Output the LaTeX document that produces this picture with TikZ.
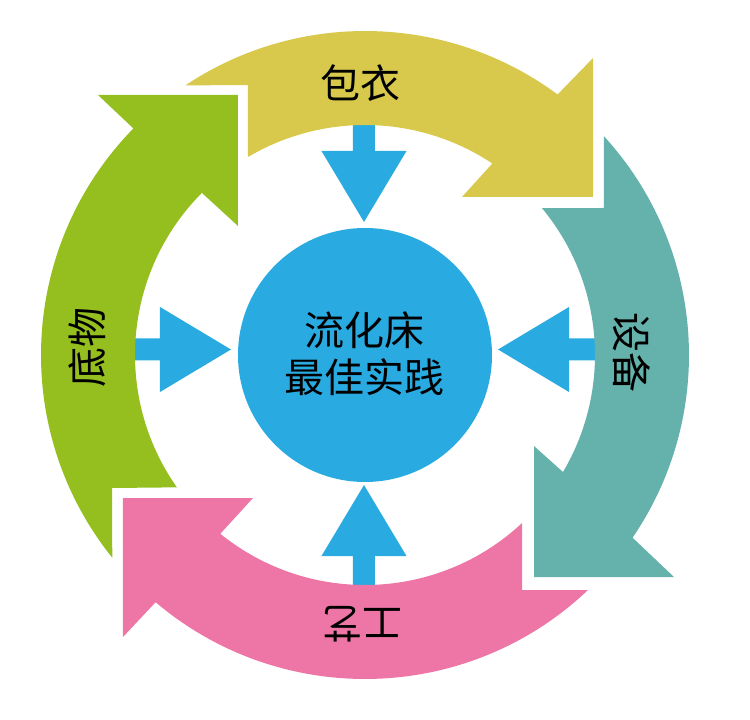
\documentclass[tikz,border=0pt]{standalone}
\usepackage{fontspec}
\usepackage{tikz}
\usetikzlibrary{positioning}
\newfontfamily\cjk{Noto Sans CJK SC}
\definecolor{coatyellow}{RGB}{216, 201, 76}
\definecolor{equipteal}{RGB}{101, 177, 172}
\definecolor{processpink}{RGB}{237, 118, 166}
\definecolor{substrategreen}{RGB}{148, 191, 31}
\definecolor{hubblue}{RGB}{41, 170, 225}

\begin{document}
\begin{tikzpicture}[
    x=1pt, y=1pt,
    band/.style={draw=none},
    inarrow/.style={fill=hubblue, draw=none},
    hub/.style={circle, fill=hubblue, minimum size=254pt, inner sep=0pt, align=center, font=\cjk\fontsize{40}{47}\selectfont},
    lbl/.style={inner sep=0pt, font=\cjk\fontsize{40}{47}\selectfont}
]
\useasboundingbox (-365,-365) rectangle (385,355);

% Inward arrows (drawn first, shafts go under the ring)
\foreach \ang/\tx/\ty in {0/-134/5.5, 180/133/5.5, -90/-1/133, 90/-1/-130}
  \fill[inarrow, shift={(\tx,\ty)}, rotate=\ang] (0,0) -- (-71,42.5) -- (-71,11) -- (-115,11)
    -- (-115,-11) -- (-71,-11) -- (-71,-42.5) -- cycle;

% Ring: coating
\fill[band, coatyellow] (123.69:324) arc[start angle=123.69, end angle=53.52, radius=324]
  -- (228,297) -- (228,158) -- (97,158) -- (56.38:230)
  arc[start angle=56.38, end angle=120.58, radius=230] -- (-117,270) -- cycle;

% Ring: equipment
\fill[band, equipteal] (42.49:324) arc[start angle=42.49, end angle=-34.33, radius=324]
  -- (309,-222) -- (169,-222) -- (169,-91) -- (-30.58:230)
  arc[start angle=-30.58, end angle=39.71, radius=230] -- (239,147) -- cycle;

% Ring: process
\fill[band, processpink] (-46.5:324) arc[start angle=-46.5, end angle=-130.26, radius=324]
  -- (-242,-282) -- (-242,-143) -- (-112,-143) -- (-128.99:230)
  arc[start angle=-128.99, end angle=-46.94, radius=230] -- (157,-235) -- cycle;

% Ring: substrate
\fill[band, substrategreen] (218.74:324) arc[start angle=218.74, end angle=135.63, radius=324]
  -- (-267,260) -- (-127,260) -- (-127,129) -- (135.17:230)
  arc[start angle=135.17, end angle=215.13, radius=230] -- (-253,-133) -- cycle;

% Hub
\node[hub] (core) at (0,0) {\raisebox{5pt}{流化床}\\\raisebox{5pt}{最佳实践}};

% Labels
\node[lbl] (coat) at (-4,272) {包衣};
\node[lbl, rotate=-90] (equip) at (267,2.5) {设备};
\node[lbl, rotate=180] (proc) at (-2,-269) {工艺};
\node[lbl, rotate=90] (subst) at (-277.5,7) {底物};

\end{tikzpicture}
\end{document}
